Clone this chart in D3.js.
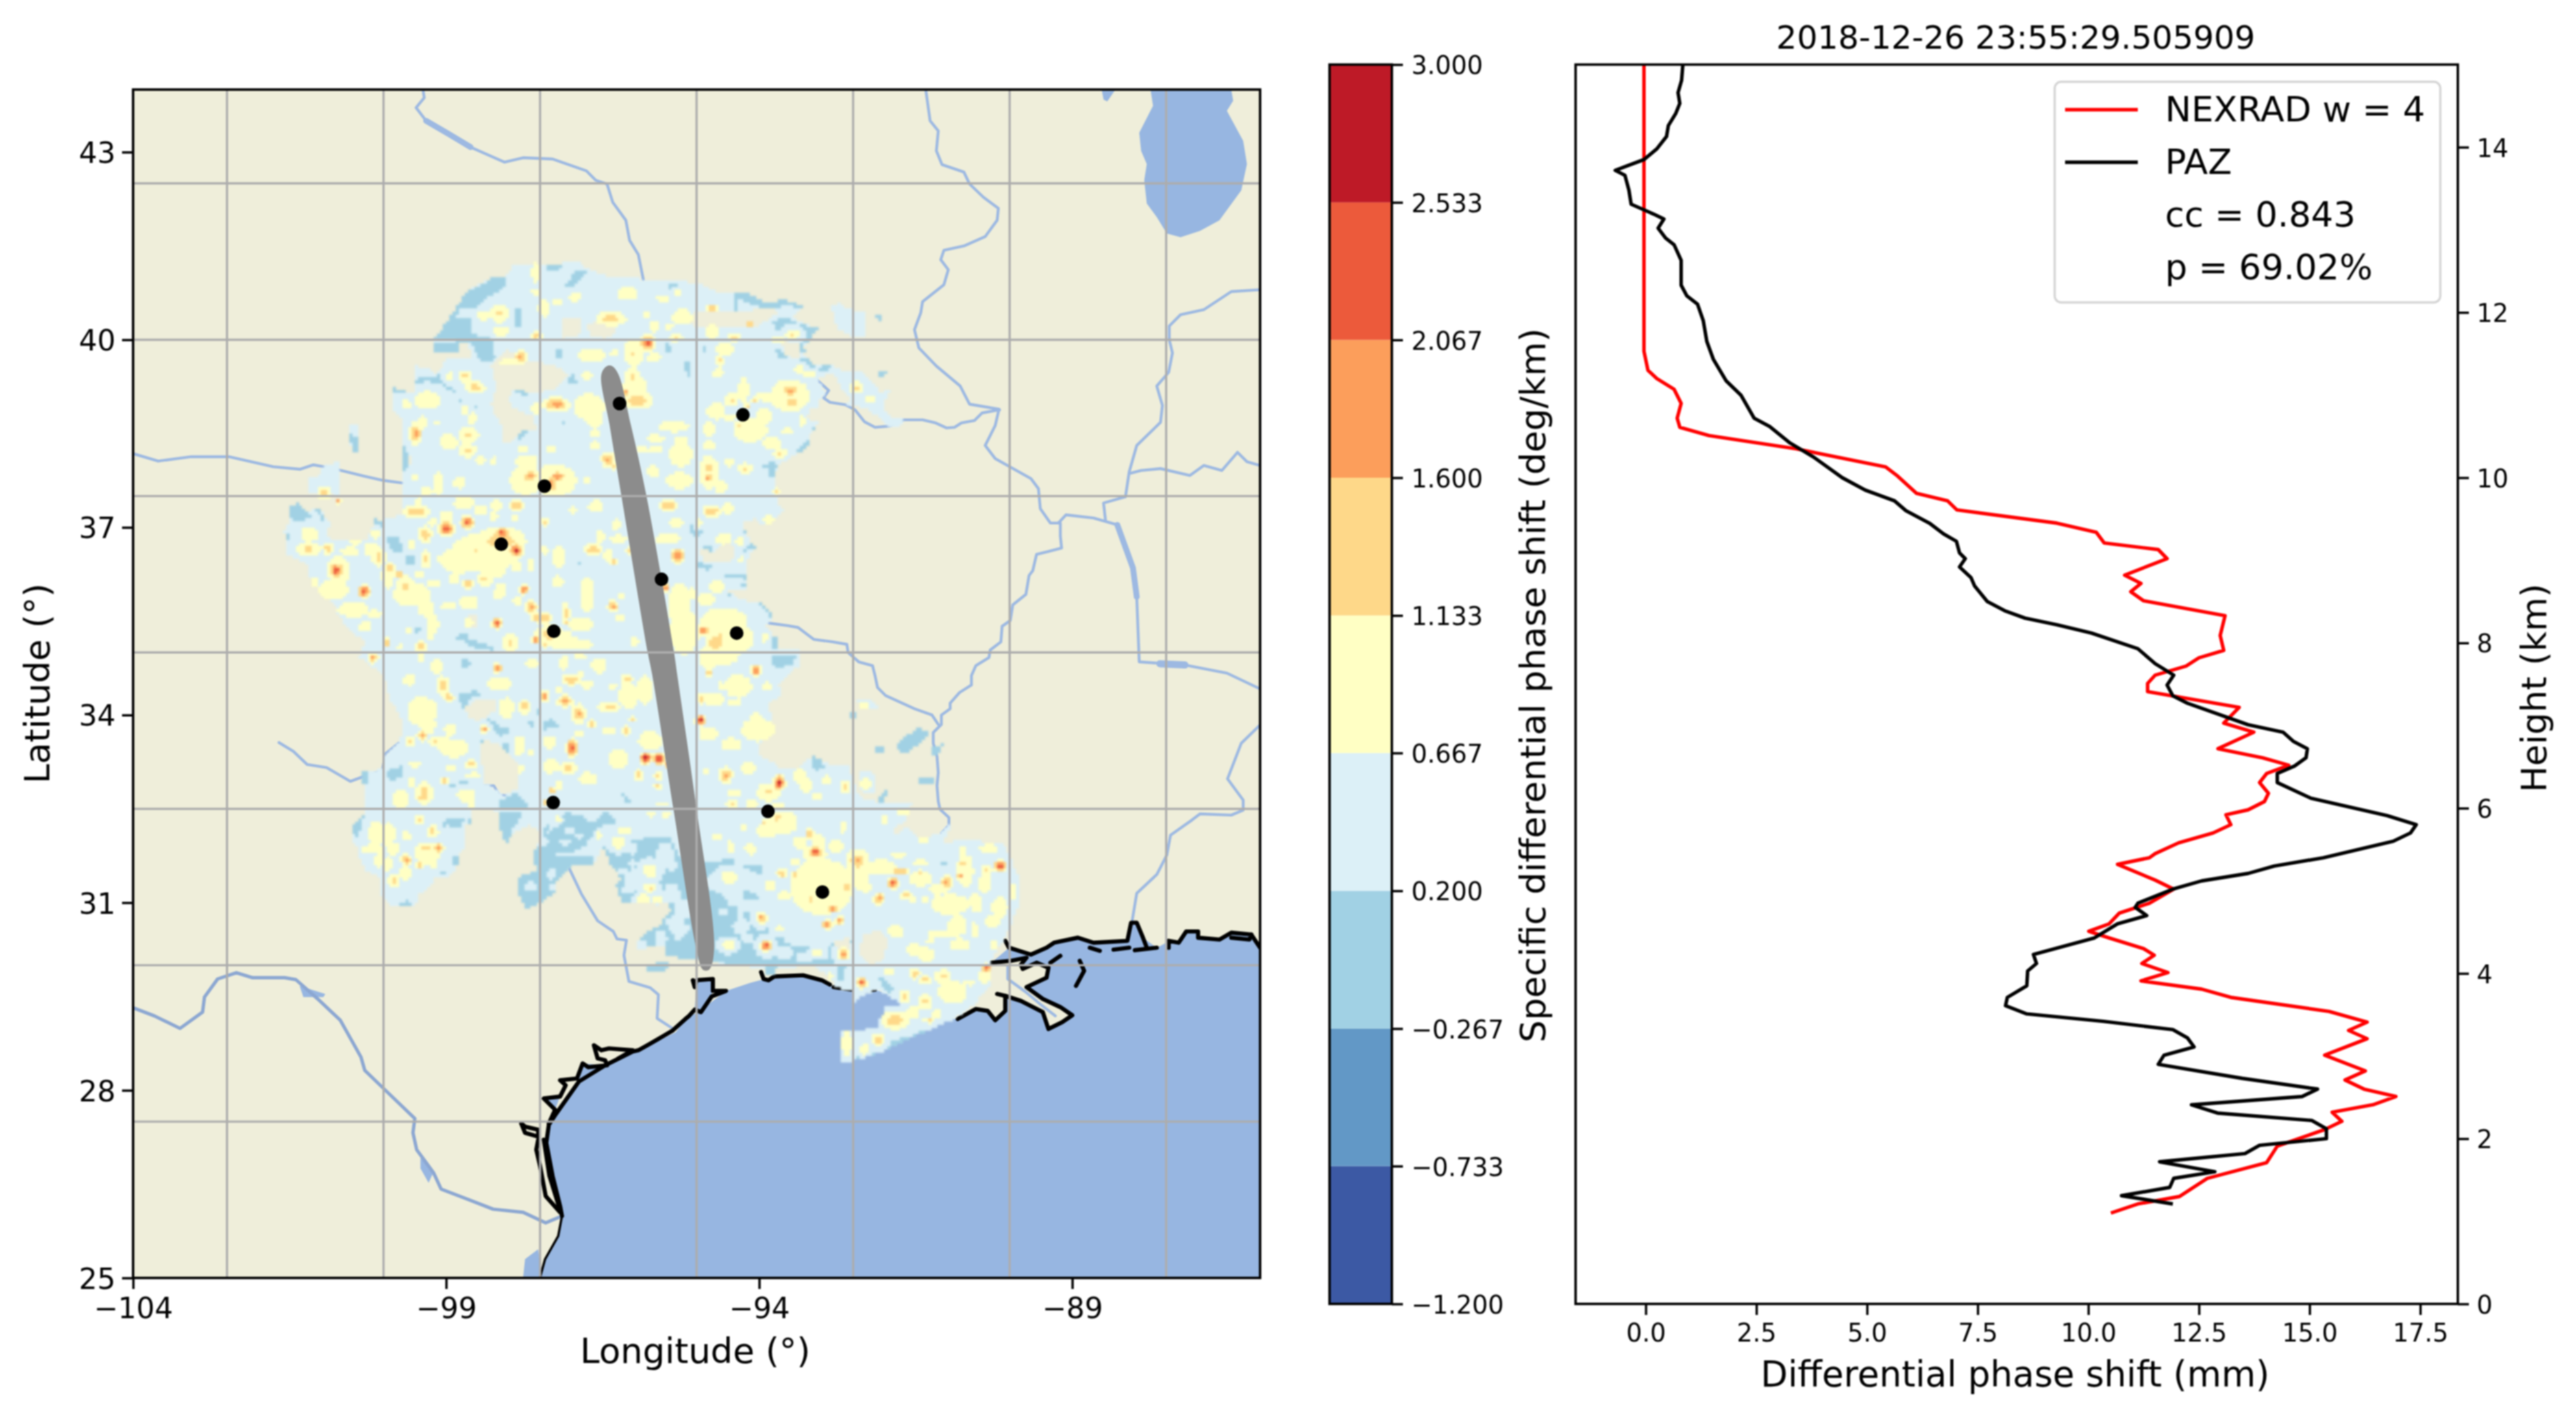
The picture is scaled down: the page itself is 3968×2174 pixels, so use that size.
<!DOCTYPE html>
<html>
<head>
<meta charset="utf-8">
<script src="https://d3js.org/d3.v7.min.js"></script>
<style>
html,body{margin:0;padding:0;background:#fff}
#chart{filter:blur(0.9px)}
text{font-family:"DejaVu Sans",sans-serif;fill:#000}
.axis line{stroke:#000;stroke-width:3.6}
.axis path{display:none}
.axis text{transform:translateY(2px)}
</style>
</head>
<body>
<svg id="chart" width="3968" height="2174"></svg>
<script>
// colour levels of the field
var levels = [-1.2,-0.733,-0.267,0.2,0.667,1.133,1.6,2.067,2.533,3.0];
var levelColors = ["#3c59a4","#6298c6","#a1d1e4","#dcf0f7","#ffffc4","#fed889","#fc9e5b","#ec5a3b","#be1a27"];

// right panel profiles (value, height km)
var nexradX = [-.04,-.04,.05,.25,.64,.80,.71,.77,1.43,3.39,5.42,5.69,6.12,6.82,7.03,9.29,10.18,10.36,11.58,11.78,10.82,11.19,10.96,11.25,13.09,12.98,13.06,12.50,12.21,11.51,11.34,11.34,13.41,13.06,13.74,12.93,13.94,14.53,14.03,13.87,14.07,13.98,13.61,13.11,13.22,12.82,12.04,11.51,11.38,10.66,11.51,11.93,11.38,10.70,10.47,10.01,10.47,11.25,11.49,11.21,11.80,11.19,12.56,13.22,15.44,16.30,15.88,16.30,15.34,16.26,15.80,16.23,16.95,16.43,15.51,15.73,15.34,14.27,14.03,12.69,12.06,11.12,10.51];
var nexradH = [15.01,11.53,11.30,11.2,11.07,10.90,10.72,10.61,10.51,10.35,10.13,10.02,9.81,9.72,9.61,9.45,9.34,9.21,9.13,9.02,8.82,8.72,8.62,8.51,8.33,8.09,7.91,7.82,7.72,7.61,7.51,7.41,7.22,7.03,6.92,6.72,6.61,6.52,6.42,6.31,6.18,6.08,5.98,5.92,5.80,5.70,5.58,5.45,5.40,5.32,5.13,5.02,4.85,4.73,4.60,4.51,4.43,4.30,4.22,4.12,4.01,3.91,3.81,3.71,3.54,3.41,3.31,3.21,3.01,2.82,2.71,2.60,2.51,2.41,2.32,2.21,2.11,1.91,1.71,1.52,1.30,1.21,1.10];
var pazX = [.84,.81,.73,.77,.68,.51,.47,.25,-.04,-.69,-.47,-.38,-.33,.18,.41,.28,.45,.64,.80,.80,.93,1.17,1.30,1.38,1.53,1.82,2.15,2.45,2.80,3.26,3.79,4.44,4.96,5.62,5.88,6.41,6.73,7.02,7.09,7.22,7.09,7.35,7.43,7.72,8.11,8.57,9.29,10.07,11.12,11.51,11.93,11.78,11.91,12.24,13.61,14.40,14.63,14.95,14.92,14.66,14.27,14.27,15.03,16.75,17.41,17.28,16.89,15.31,14.2,13.61,12.56,11.91,11.12,11.06,11.32,10.66,10.14,8.76,8.83,8.63,8.61,8.17,8.13,8.61,10.34,11.91,12.24,12.39,11.71,11.58,13.48,15.18,14.83,12.33,12.92,15.05,15.38,15.38,13.87,13.54,11.61,12.86,11.93,11.84,10.75,11.91];
var pazH = [15.01,14.81,14.66,14.53,14.41,14.26,14.13,13.98,13.85,13.72,13.66,13.48,13.31,13.19,13.13,13.02,12.9,12.82,12.63,12.33,12.2,12.1,11.9,11.65,11.43,11.17,11.0,10.72,10.62,10.42,10.25,10.0,9.85,9.72,9.6,9.45,9.32,9.23,9.09,9.02,8.92,8.79,8.69,8.5,8.39,8.3,8.22,8.12,7.93,7.75,7.61,7.49,7.36,7.27,7.01,6.92,6.81,6.72,6.61,6.51,6.42,6.31,6.12,5.91,5.80,5.70,5.60,5.40,5.30,5.21,5.12,5.02,4.85,4.80,4.70,4.60,4.43,4.23,4.12,4.03,3.85,3.71,3.61,3.51,3.42,3.32,3.22,3.11,3.01,2.90,2.73,2.60,2.51,2.41,2.31,2.22,2.12,2.0,1.92,1.82,1.72,1.60,1.52,1.41,1.31,1.21];
var legendRows = ["NEXRAD w = 4","PAZ","cc = 0.843","p = 69.02%"];

// map ticks
var lonTicks = [-104,-99,-94,-89], latTicks = [25,28,31,34,37,40,43];
var lonGrid = [-102.5,-100,-97.5,-95,-92.5,-90,-87.5], latGrid = [27.5,30,32.5,35,37.5,40,42.5];
var barX = [0,2.5,5,7.5,10,12.5,15,17.5], barH = [0,2,4,6,8,10,12,14];

// satellite track edges and stations
var trackLat = [39.58,39.45,38.64,37.5,35,34.65,32.5,30.25,29.93];
var trackWest = [-96.43,-96.52,-96.39,-96.2,-95.78,-95.71,-95.37,-95,-94.9];
var trackEast = [-96.35,-96.25,-96.05,-95.8,-95.36,-95.31,-95,-94.72,-94.8];
var stationLon = [-96.23,-97.43,-98.12,-95.56,-97.28,-94.26,-94.36,-97.29,-93.86,-92.99];
var stationLat = [38.98,37.66,36.73,36.17,35.34,38.8,35.31,32.6,32.46,31.17];

// gulf and lakes, lon lat
var gulf = [[-97.5,25],[-97.42,25.3],[-97.21,25.67],[-97.15,25.99],[-97.18,26.15],[-97.3,26.63],[-97.4,27.16],[-97.36,27.45],[-97.24,27.63],[-96.88,28.14],[-96.46,28.37],[-95.93,28.64],[-95.33,28.93],[-95.18,29.14],[-94.95,29.27],[-94.53,29.59],[-94.14,29.72],[-93.76,29.82],[-93.3,29.84],[-93,29.76],[-92.79,29.65],[-92.53,29.61],[-92.15,29.61],[-91.77,29.48],[-91.52,29.19],[-90.84,29.14],[-90.54,29.3],[-90.35,29.27],[-90.23,29.12],[-90.07,29.27],[-90.07,29.51],[-89.82,29.43],[-89.47,29.25],[-89.38,28.98],[-89.16,29.09],[-89,29.2],[-89.19,29.33],[-89.47,29.46],[-89.73,29.65],[-89.41,29.8],[-89.38,29.96],[-89.57,30.04],[-89.79,29.94],[-89.82,30.01],[-89.73,30.12],[-89.98,30.07],[-90.29,30.04],[-90.01,30.28],[-89.66,30.17],[-89.41,30.28],[-89.29,30.36],[-88.91,30.44],[-88.66,30.36],[-88.12,30.39],[-88.06,30.68],[-87.97,30.68],[-87.87,30.44],[-87.65,30.28],[-87.46,30.38],[-87.3,30.36],[-87.18,30.54],[-86.99,30.54],[-86.99,30.44],[-86.65,30.41],[-86.46,30.52],[-86.14,30.49],[-86,30.28],[-86,25]];
var gulfBays = [
 [[-97.44,27.87],[-97.26,27.69],[-97.18,27.9]],
 [[-96.91,28.19],[-96.82,28.43],[-96.46,28.4],[-96.88,28.14]],
 [[-95,29.76],[-94.74,29.76],[-94.74,29.57],[-94.95,29.25],[-95.03,29.29]],
 [[-101.34,29.67],[-100.93,29.54],[-100.96,29.49],[-101.28,29.49]],
 [[-99.41,26.92],[-99.2,26.7],[-99.28,26.52],[-99.41,26.75]],
 [[-97.77,25.01],[-97.74,25.3],[-97.53,25.46],[-97.47,25.01]]
];
var lakeMichigan = [[-87.75,44],[-86.46,44],[-86.43,43.82],[-86.53,43.66],[-86.27,43.18],[-86.21,42.81],[-86.3,42.39],[-86.65,41.91],[-86.96,41.74],[-87.27,41.64],[-87.49,41.7],[-87.65,41.96],[-87.81,42.18],[-87.85,42.55],[-87.81,42.81],[-87.9,43.02],[-87.93,43.31],[-87.71,43.74]];
var greenBay = [[-88.53,44],[-88.31,44],[-88.44,43.81],[-88.5,43.84]];

// rivers
var riverMissouri = [[-99.37,44],[-99.35,43.87],[-99.48,43.71],[-99.32,43.5],[-98.96,43.29],[-98.61,43.08],[-98.07,42.84],[-97.77,42.91],[-97.3,42.89],[-96.76,42.7],[-96.61,42.55],[-96.43,42.49],[-96.34,42.2],[-96.13,41.91],[-96.07,41.59],[-95.93,41.36],[-95.85,40.96]];
var riverMissouriWide = [[-99.32,43.5],[-98.96,43.29],[-98.61,43.08]];
var riverMissouriLow = [[-93.08,39.36],[-92.89,39.19],[-92.97,39.07],[-92.87,39],[-92.62,38.96],[-92.47,38.88],[-92.32,38.69],[-92.15,38.6],[-91.92,38.62],[-91.69,38.72],[-91.39,38.72],[-91.18,38.67],[-91.01,38.59],[-90.88,38.6],[-90.77,38.67],[-90.56,38.71],[-90.44,38.83],[-90.16,38.88]];
var riverMississippi = [[-91.34,44],[-91.27,43.5],[-91.14,43.34],[-91.17,43.02],[-91.08,42.8],[-90.73,42.68],[-90.64,42.49],[-90.42,42.28],[-90.18,42.1],[-90.2,41.91],[-90.39,41.65],[-90.73,41.5],[-91.05,41.43],[-91.1,41.28],[-90.98,41.12],[-91.05,40.88],[-91.39,40.61],[-91.42,40.43],[-91.52,40.16],[-91.45,39.87],[-91.17,39.58],[-90.79,39.26],[-90.64,38.97],[-90.17,38.89],[-90.23,38.63],[-90.39,38.31],[-90.23,38.1],[-89.66,37.78],[-89.54,37.62],[-89.51,37.3],[-89.35,37.07],[-89.19,37.07],[-89.19,36.86],[-89.17,36.67],[-89.4,36.61],[-89.57,36.57],[-89.63,36.31],[-89.69,36.23],[-89.74,35.93],[-89.95,35.76],[-89.99,35.51],[-90.12,35.42],[-90.14,35.17],[-90.31,35.04],[-90.33,34.92],[-90.54,34.79],[-90.61,34.63],[-90.61,34.48],[-90.8,34.36],[-90.95,34.19],[-90.95,34.1],[-91.09,34],[-91.09,33.85],[-91.22,33.72],[-91.22,33.55],[-91.16,33.34],[-91.14,33.08],[-91.16,32.87],[-91.14,32.62],[-91.11,32.49],[-90.97,32.36],[-90.97,32.24],[-91.09,32.11]];
var riverDelta = [[-90.03,29.99],[-90.03,29.78],[-89.74,29.57],[-89.49,29.36],[-89.27,29.19]];
var riverWabash = [[-86,40.8],[-86.46,40.77],[-86.9,40.48],[-87.27,40.4],[-87.45,40.22],[-87.45,40],[-87.4,39.79],[-87.46,39.48],[-87.65,39.26],[-87.56,38.95],[-87.59,38.68],[-87.97,38.31],[-88.09,37.89],[-88.15,37.49],[-88.5,37.39],[-88.47,37.12]];
var riverGreen = [[-88.09,37.86],[-87.9,37.91],[-87.59,37.94],[-87.12,37.83],[-86.9,37.99],[-86.61,37.91],[-86.36,38.2],[-86.21,38.05],[-86,37.99]];
var riverOhio = [[-89.22,37.07],[-89.1,37.2],[-88.66,37.15],[-88.28,37.04]];
var riverTennesseeWide = [[-88.28,37.04],[-88.03,36.35],[-87.97,35.89]];
var riverTennessee = [[-87.97,35.89],[-87.93,34.85],[-87.2,34.8],[-86.53,34.67],[-85.96,34.4]];
var riverTennesseeLake = [[-87.6,34.82],[-87.2,34.8]];
var riverAlabama = [[-85.96,33.88],[-86.3,33.55],[-86.52,32.98],[-86.27,32.64],[-86.27,32.48],[-86.46,32.4],[-86.96,32.42],[-87.09,32.32],[-87.43,32.08],[-87.49,31.76],[-87.65,31.45],[-87.97,31.15],[-88.04,30.73]];
var riverArkansasLow = [[-93.85,35.47],[-93.55,35.43],[-93.38,35.4],[-93.13,35.21],[-92.83,35.17],[-92.6,35.13],[-92.58,35],[-92.41,34.85],[-92.19,34.79],[-92.15,34.63],[-92.11,34.44],[-91.98,34.31],[-91.52,34.1],[-91.24,34],[-91.14,33.85]];
var riverArkansasHigh = [[-104,38.18],[-103.6,38.06],[-103.07,38.13],[-102.47,38.13],[-101.76,37.97],[-101.33,37.93],[-101.12,38],[-100.95,37.97],[-100.72,37.92],[-100.31,37.82],[-100,37.75],[-99.7,37.71]];
var riverRedHigh = [[-101.67,33.56],[-101.44,33.42],[-101.22,33.21],[-100.91,33.16],[-100.53,32.94],[-100.31,33.02],[-100.02,33.11],[-99.97,33.38],[-99.76,33.55]];
var riverBrazosTop = [[-98.41,32.87],[-98.24,32.87],[-98.15,32.72],[-98.03,32.71]];
var riverTrinity = [[-97.03,31.54],[-96.84,31.14],[-96.58,30.71],[-96.33,30.54],[-96.27,30.42],[-96.12,30.4],[-96.16,30.16],[-96.08,29.74],[-95.74,29.64],[-95.61,29.53],[-95.63,29.15],[-95.4,29]];
var riverGrande = [[-104,29.32],[-103.66,29.19],[-103.25,28.99],[-102.89,29.25],[-102.86,29.49],[-102.65,29.78],[-102.35,29.88],[-102.09,29.8],[-101.58,29.8],[-101.4,29.77],[-101.05,29.46],[-100.69,29.12],[-100.36,28.53],[-100.3,28.32],[-100,28.03],[-99.5,27.55],[-99.53,27.32],[-99.47,27.05],[-99.2,26.68],[-99.08,26.42],[-98.66,26.26],[-98.25,26.1],[-97.77,26.05],[-97.41,25.88],[-97.15,25.99]];

// coast line pieces
var coastPieces = [
 [[-95.06,29.76],[-95.03,29.65],[-95,29.76],[-94.74,29.78],[-94.74,29.59],[-94.53,29.59],[-94.76,29.5],[-94.93,29.25],[-95.03,29.29],[-95.12,29.19],[-95.18,29.14],[-95.39,28.95],[-95.75,28.74],[-95.93,28.64],[-96.02,28.62],[-96.46,28.4],[-96.88,28.14],[-97.24,27.63],[-97.36,27.45],[-97.4,27.16],[-97.3,26.63],[-97.18,26.15],[-97.15,25.99]],
 [[-93.97,29.89],[-93.93,29.78],[-93.85,29.76],[-93.76,29.82],[-93.3,29.84],[-93,29.76],[-92.87,29.69]],
 [[-92.81,29.65],[-92.53,29.61]],
 [[-92.34,29.59],[-92.15,29.61]],
 [[-91.98,29.65],[-91.92,29.59]],
 [[-90.83,29.14],[-90.54,29.3],[-90.35,29.27],[-90.23,29.12],[-90.07,29.27],[-90.07,29.51],[-90.2,29.54]],
 [[-90.07,29.51],[-89.82,29.43],[-89.47,29.25],[-89.38,28.98],[-89.16,29.09],[-89,29.2],[-89.19,29.33],[-89.47,29.46],[-89.73,29.65],[-89.41,29.8],[-89.38,29.96],[-89.57,30.04],[-89.79,29.94],[-89.82,30.01],[-89.73,30.12],[-89.98,30.07],[-90.29,30.04]],
 [[-90.07,30.39],[-90.01,30.28],[-89.66,30.17],[-89.41,30.28],[-89.29,30.36],[-88.91,30.44],[-88.66,30.36],[-88.12,30.39],[-88.06,30.68],[-87.97,30.68],[-87.87,30.44],[-87.81,30.28]],
 [[-87.46,30.28],[-87.46,30.39],[-87.3,30.36],[-87.18,30.54],[-86.99,30.54],[-86.99,30.44],[-86.65,30.41],[-86.46,30.52],[-86.14,30.49],[-86.17,30.41],[-86.46,30.44]],
 [[-86.14,30.49],[-86,30.28]],
 [[-88.72,30.28],[-88.56,30.23]],[[-88.34,30.25],[-88.09,30.28]],[[-88,30.24],[-87.65,30.28]],
 [[-88.88,30.07],[-88.81,29.91],[-88.94,29.67]],[[-89.35,30.04],[-89.19,30.15]],
 [[-97.8,27.47],[-97.74,27.32],[-97.53,27.26],[-97.53,27.37],[-97.74,27.42],[-97.8,27.47]],
 [[-97.53,27.21],[-97.56,27.05],[-97.5,26.79],[-97.41,26.31],[-97.18,26.05]],
 [[-97.44,27.21],[-97.35,26.63],[-97.2,26.15]],
 [[-97.36,27.47],[-97.26,27.69],[-97.44,27.87],[-97.18,27.9],[-97.09,28.08],[-97.18,28.16],[-96.91,28.19],[-96.82,28.43],[-96.73,28.37],[-96.43,28.4],[-96.46,28.48],[-96.58,28.51],[-96.64,28.72],[-96.52,28.64],[-96.4,28.67],[-96.02,28.64],[-96.25,28.51]]
];
var coastThin = [[-97.15,25.99],[-97.21,25.67],[-97.42,25.3],[-97.5,25.01]];

// coverage of the field, lon lat
var coverage = [
 [[-97.92,41.21],[-96.88,41.23],[-96.67,41.1],[-96.37,41],[-96.03,41.02],[-95.81,40.93],[-95.2,40.93],[-94.91,40.89],[-94.65,40.76],[-94.19,40.7],[-93.89,40.59],[-93.59,40.64],[-93.28,40.52],[-93.47,40.36],[-93.06,40.17],[-93.21,40],[-93.3,39.83],[-93.21,39.6],[-92.87,39.6],[-92.64,39.49],[-92.41,39.51],[-92.22,39.36],[-92.07,39.15],[-91.88,39.24],[-92.03,38.96],[-91.92,38.77],[-91.69,38.73],[-91.69,38.64],[-91.92,38.58],[-92.11,38.77],[-92.28,38.9],[-92.49,38.94],[-92.92,39.09],[-93.04,39.07],[-93.04,38.88],[-93.21,38.88],[-93.25,38.73],[-93.04,38.69],[-93.17,38.52],[-93.21,38.31],[-93.42,38.16],[-93.68,38.01],[-93.78,37.75],[-93.68,37.54],[-93.68,37.37],[-93.59,37.29],[-93.72,37.14],[-93.93,37.03],[-94.06,37.14],[-94.27,37.06],[-94.14,36.78],[-94.06,36.67],[-94.19,36.48],[-94.19,36.02],[-94.53,36],[-94.23,35.81],[-93.78,35.59],[-93.89,35.42],[-93.76,35.25],[-93.68,35.04],[-93.36,35.04],[-93.34,34.79],[-93.55,34.63],[-93.72,34.48],[-93.61,34.35],[-93.85,34.19],[-93.81,33.93],[-93.81,33.81],[-93.97,33.59],[-94.02,33.38],[-93.64,33.15],[-93.38,33.17],[-93.13,33.34],[-92.87,33.21],[-92.58,33.21],[-92.5,32.95],[-92.41,32.7],[-92.03,32.58],[-91.56,32.58],[-91.69,32.24],[-91.43,32.03],[-91.14,32.11],[-90.95,32.28],[-90.99,32.11],[-91.09,31.94],[-90.88,31.98],[-90.54,31.98],[-90.12,31.96],[-90.01,31.77],[-89.84,31.35],[-89.86,30.92],[-89.99,30.63],[-90.12,30.37],[-90.29,30.08],[-90.29,29.7],[-90.58,29.36],[-90.88,29.14],[-91.31,28.95],[-91.69,28.81],[-92.03,28.64],[-92.5,28.47],[-92.72,28.47],[-92.72,28.93],[-92.5,28.93],[-92.11,29.02],[-92.07,29.19],[-91.73,29.36],[-92.03,29.57],[-92.15,29.61],[-92.5,29.4],[-92.5,29.57],[-92.79,29.65],[-92.83,29.78],[-93.13,29.99],[-93.89,29.95],[-94.69,30.03],[-95.44,30.16],[-95.53,30.33],[-95.91,30.25],[-95.97,30.37],[-95.82,30.52],[-95.57,30.63],[-95.44,30.97],[-96.18,30.99],[-96.29,31.28],[-96.2,31.39],[-96.37,31.6],[-96.5,31.9],[-96.65,31.6],[-97.01,31.58],[-97.26,31.31],[-97.26,31.14],[-97.5,31.01],[-97.73,30.88],[-97.86,31.18],[-97.86,31.39],[-97.56,31.52],[-97.62,31.81],[-97.52,31.94],[-97.52,32.15],[-97.69,32.24],[-97.94,32.11],[-98.03,31.96],[-98.15,32.24],[-98.17,32.47],[-98.58,32.49],[-98.58,32.32],[-98.7,32.24],[-98.68,31.9],[-98.79,31.77],[-98.79,31.62],[-98.96,31.41],[-99.17,31.39],[-99.21,31.3],[-99.42,31.14],[-99.51,30.94],[-99.85,30.94],[-100.04,31.14],[-100.04,31.39],[-100.27,31.5],[-100.38,31.69],[-100.38,31.81],[-100.48,31.98],[-100.5,32.24],[-100.31,32.39],[-100.31,32.96],[-100.29,33.11],[-100.02,33.13],[-99.97,33.38],[-99.76,33.57],[-99.7,33.68],[-99.7,33.93],[-99.89,34.23],[-100,34.65],[-100.38,34.92],[-100.31,35.17],[-100.4,35.25],[-100.61,35.42],[-100.76,35.76],[-100.95,35.89],[-101.2,36.23],[-101.2,36.4],[-101.54,36.57],[-101.58,36.95],[-101.5,37.08],[-101.5,37.33],[-101.37,37.4],[-101.2,37.2],[-101.12,37.31],[-101.01,37.27],[-100.86,37.08],[-100.91,36.87],[-100.78,36.78],[-100.27,36.82],[-100.14,37.08],[-100.02,37.12],[-99.72,37.2],[-99.7,37.88],[-99.57,38.01],[-99.53,38.31],[-99.72,38.47],[-99.72,38.73],[-99.85,38.86],[-99.85,39.15],[-99.51,39.15],[-99.51,39.58],[-99.3,39.56],[-99.17,39.43],[-99,39.68],[-98.81,39.7],[-98.6,39.68],[-98.64,39.96],[-98.79,39.96],[-98.81,39.82],[-99.19,39.82],[-99.19,40],[-98.96,40.32],[-98.83,40.51],[-98.7,40.76],[-98.24,41],[-98.03,41.02]],
 [[-100.53,38.67],[-100.39,38.67],[-100.39,38.16],[-100.53,38.31]],
 [[-101.18,37.8],[-101.01,37.84],[-100.95,38.01],[-100.72,38.03],[-100.69,37.63],[-100.72,37.52],[-101.03,37.54],[-101.18,37.54]],
 [[-92.85,40.53],[-92.7,40.59],[-92.6,40.5],[-92.28,40.42],[-92.28,40.08],[-92.49,40.04],[-92.75,40.17],[-92.8,40.34]],
 [[-92.45,34.25],[-92.24,34.27],[-92.09,34.1],[-92.36,34.1]]
];
var noData = [
 [[-98.28,39.58],[-98.03,39.83],[-97.69,39.66],[-97.26,39.6],[-97.05,39.45],[-97.26,39.2],[-97.6,39.15],[-97.94,39.2],[-98,39.03],[-97.94,38.9],[-97.6,38.77],[-97.56,38.56],[-97.73,38.56],[-97.9,38.43],[-98,38.31],[-98.11,38.39],[-98.13,38.73],[-98.24,38.81],[-98.28,38.98],[-98.2,39.24]],
 [[-97.16,40.34],[-96.84,40.36],[-96.88,40.04],[-97.16,40.02]],
 [[-96.75,40.25],[-96.5,40.3],[-96.26,40.15],[-96.45,40.02],[-96.7,40.06]],
 [[-95.33,40.32],[-95.03,40.44],[-94.44,40.44],[-93.76,40.51],[-93.72,40.42],[-94.02,40.21],[-94.53,40.21],[-95.2,40.23]],
 [[-93.64,39.98],[-93.32,39.96],[-93.38,39.7],[-93.59,39.75]],
 [[-93.08,39.41],[-92.79,39.45],[-92.71,39.24],[-92.49,38.98],[-92.92,39.06],[-92.97,39.19]],
 [[-94.95,36.65],[-94.69,36.61],[-94.53,36.78],[-94.4,36.69],[-94.4,36.48],[-94.65,36.44],[-94.9,36.44]],
 [[-98.72,34.1],[-98.48,34.27],[-98.19,34.23],[-98.19,34.09],[-98.48,33.89],[-98.64,33.98]],
 [[-98.45,33.51],[-98.36,33.59],[-98.11,33.51],[-97.86,33.25],[-97.86,32.83],[-98.07,32.72],[-98.24,32.83],[-98.41,32.92],[-98.41,33.13],[-98.45,33.38]],
 [[-95.58,31.81],[-95.52,31.9],[-95.42,31.77],[-95.5,31.64]],
 [[-95.75,30.92],[-95.5,31.01],[-95.39,30.88],[-95.58,30.67],[-95.75,30.58]],
 [[-92.36,30.46],[-92.11,30.58],[-91.92,30.42],[-92.03,30.08],[-92.24,30],[-92.41,30.16]],
 [[-92.79,30.37],[-92.53,30.48],[-92.53,30.25],[-92.75,30.25]],
 [[-91.88,32.15],[-91.62,32.34],[-91.58,32.28],[-91.77,32.09]],
 [[-98.66,35.6],[-98.52,35.6],[-98.52,35.42],[-98.66,35.42]]
];
var lowPatches = [
 [[-100.53,38.5],[-100.39,38.43],[-100.39,38.16],[-100.48,38.2],[-100.53,38.35]],
 [[-92.14,40.4],[-92.03,40.4],[-92.03,40.3],[-92.11,40.32]],
 [[-92.11,39.51],[-91.96,39.49],[-91.98,39.41],[-92.09,39.42]],
 [[-91.83,33.51],[-91.47,33.81],[-91.26,33.69],[-91.35,33.6],[-91.69,33.38],[-91.77,33.42]],
 [[-92.15,33.49],[-92,33.49],[-92,33.4],[-92.15,33.4]],
 [[-91.26,33.51],[-91.07,33.53],[-91.09,33.38],[-91.26,33.36]],
 [[-91.43,33],[-91.18,33],[-91.18,32.89],[-91.43,32.89]],
 [[-92.58,34.02],[-92.43,34.06],[-92.43,33.93],[-92.53,33.93]],
 [[-92.43,33.06],[-92.24,33.13],[-92.13,32.96],[-92.13,32.75],[-92.36,32.75]],
 [[-92.11,32.66],[-91.98,32.83],[-91.96,32.75],[-92.03,32.58]],
 [[-95.78,29.99],[-95.48,30.08],[-95.44,29.95],[-95.61,29.88],[-95.78,29.88]],
 [[-93.89,30],[-93.72,30],[-93.75,29.84],[-93.89,29.84]],
 [[-92.75,30],[-92.62,30],[-92.66,29.74],[-92.75,29.78]],
 [[-98.96,40.32],[-98.83,40.53],[-98.7,40.74],[-98.24,41],[-98.03,41.02],[-98.03,40.89],[-98.24,40.72],[-98.41,40.64],[-98.47,40.51],[-98.7,40.51],[-98.81,40.49],[-98.83,40.34],[-98.62,40.34],[-98.62,40.13],[-98.41,40.04],[-98.24,40.04],[-98.22,39.66],[-98.45,39.66],[-98.62,39.96],[-99.21,40]],
 [[-99.19,39.96],[-98.81,39.96],[-98.81,39.82],[-99.19,39.82]],
 [[-98,40.47],[-97.83,40.51],[-97.77,40.25],[-97.94,40.15],[-98,40.25]],
 [[-97.75,41.21],[-97.07,41.22],[-97.3,41.06],[-97.52,41.21]],
 [[-97.09,40.87],[-96.92,41.12],[-96.69,41.12],[-96.88,40.97],[-96.97,40.87]],
 [[-97.26,39.83],[-97.16,39.85],[-97.14,39.7],[-97.26,39.72]],
 [[-99.51,39.36],[-99.12,39.43],[-99.04,39.28],[-98.7,39.24],[-98.66,39.13],[-98.96,39.19],[-99.21,39.19],[-99.44,39.19]],
 [[-98,39.19],[-97.62,39.24],[-97.73,39.07],[-97.9,39.19]],
 [[-97.2,38.73],[-97.05,38.81],[-96.99,38.73],[-97.09,38.64]],
 [[-97.09,39.36],[-96.97,39.45],[-96.9,39.3],[-97.05,39.3]],
 [[-98.83,39.05],[-98.49,38.94],[-98.49,38.81],[-98.75,38.98]],
 [[-97.83,38.47],[-97.69,38.62],[-97.52,38.52],[-97.69,38.56],[-97.83,38.39]],
 [[-99.72,38.47],[-99.55,38.35],[-99.59,38.01],[-99.7,37.88],[-99.68,38.31]],
 [[-101.52,37.33],[-101.37,37.39],[-101.16,37.16],[-101.39,37.08],[-101.48,37.16]],
 [[-101.14,37.31],[-101.01,37.29],[-100.93,37.08],[-101.05,37.2]],
 [[-101.56,36.95],[-101.44,36.78],[-101.44,36.65],[-101.56,36.57]],
 [[-100.23,36.87],[-100.12,37.14],[-100.02,37.1],[-100.02,37.01],[-100.12,36.99],[-100.21,36.87]],
 [[-99.98,36.82],[-99.76,36.86],[-99.68,36.63],[-99.89,36.55],[-99.98,36.59]],
 [[-99.61,36.61],[-99.49,36.61],[-99.51,36.4],[-99.72,36.31],[-99.66,36.44]],
 [[-100.53,36.4],[-100.42,36.31],[-100.44,36.25],[-100.53,36.31]],
 [[-100.84,36.55],[-100.76,36.59],[-100.76,36.46],[-100.84,36.46]],
 [[-98.53,35.89],[-98.34,35.91],[-98.41,35.74],[-98.47,35.78]],
 [[-99.51,35.42],[-99.4,35.42],[-99.38,35.21],[-99.51,35.25]],
 [[-98.87,35.21],[-98.68,35.36],[-98.62,35.21],[-98.28,35.11],[-98.24,35.02],[-98.49,35.04],[-98.7,35.17]],
 [[-98.75,34.94],[-98.58,34.83],[-98.72,34.7]],
 [[-96.92,36.46],[-96.8,36.4],[-96.8,36.36],[-96.88,36.38]],
 [[-98.19,35.64],[-97.98,35.59],[-98.03,35.51],[-98.19,35.57]],
 [[-100.76,35.76],[-100.67,35.76],[-100.72,35.59],[-100.76,35.59]],
 [[-99.85,39.24],[-99.66,39.17],[-99.68,39.13],[-99.83,39.13]],
 [[-95.48,40.91],[-95.27,40.91],[-95.44,40.78]],
 [[-94.42,40.74],[-94.2,40.74],[-93.89,40.59],[-93.59,40.64],[-93.28,40.52],[-93.64,40.53],[-93.89,40.49],[-94.14,40.58],[-94.33,40.66],[-94.33,40.47],[-94.4,40.47]],
 [[-93.81,40.28],[-93.55,40.38],[-93.38,40.25],[-93.06,40.19],[-93.17,40],[-93.3,39.92],[-93.23,39.79],[-93.34,39.79],[-93.34,40],[-93.38,40.08],[-93.59,40.23],[-93.68,40.08]],
 [[-95.58,39.94],[-95.42,39.94],[-95.42,39.81],[-95.58,39.83]],
 [[-95.22,39.64],[-95.08,39.64],[-95.08,39.41],[-95.14,39.41]],
 [[-94.89,39.92],[-94.83,39.92],[-94.83,39.81],[-94.89,39.81]],
 [[-93.76,39.83],[-93.68,39.87],[-93.57,39.72],[-93.68,39.72]],
 [[-93.64,39.41],[-93.53,39.6],[-93.43,39.58],[-93.44,39.47],[-93.57,39.39]],
 [[-93.38,39.7],[-93.25,39.7],[-93.04,39.55],[-92.96,39.6],[-92.83,39.6],[-92.96,39.43],[-93.08,39.49],[-93.3,39.6]],
 [[-93.28,39.36],[-93.11,39.36],[-93.17,39.26],[-93.17,39.11],[-93.28,39.09]],
 [[-93.17,39.09],[-93.04,39.09],[-93.04,38.88],[-93.21,38.88]],
 [[-93.66,38.9],[-93.47,38.92],[-93.32,38.77],[-93.42,38.73],[-93.51,38.83],[-93.62,38.73],[-93.68,38.73]],
 [[-93.44,38.18],[-93.21,38.43],[-93.04,38.71],[-93.17,38.52],[-93.21,38.31],[-93.38,38.18]],
 [[-93.99,37.99],[-93.85,38.01],[-93.83,38.14],[-93.66,38.01],[-93.76,37.92],[-93.78,37.78],[-93.85,37.78],[-93.87,37.94]],
 [[-95.14,37.01],[-95.01,37.06],[-94.89,36.91],[-95.03,36.84]],
 [[-94.25,37.03],[-94.14,36.78],[-94.06,36.67],[-94.17,36.65],[-94.25,36.86]],
 [[-94.42,36.69],[-94.19,36.72],[-94.21,36.61],[-94.36,36.65]],
 [[-94.95,36.72],[-94.74,36.69],[-94.76,36.61],[-94.86,36.65]],
 [[-94.99,36.44],[-94.74,36.4],[-94.8,36.31],[-94.99,36.38]],
 [[-94.53,36.27],[-94.19,36.23],[-94.19,36.17],[-94.53,36.21]],
 [[-94.3,36.12],[-94.19,36.12],[-94.19,36.04],[-94.3,36.08]],
 [[-94.5,36],[-94.36,35.85],[-93.93,35.78],[-93.78,35.61],[-93.93,35.47],[-94.12,35.44],[-94.06,35.57],[-94.06,35.68],[-94.31,35.72],[-94.5,35.83]],
 [[-93.85,35.25],[-93.68,35.25],[-93.68,35.04],[-93.78,35.04]],
 [[-93.83,34.94],[-93.36,34.94],[-93.51,34.79],[-93.76,34.75]],
 [[-98.81,34.36],[-98.53,34.38],[-98.24,34.38],[-98.19,34.23],[-98.41,34.29],[-98.6,34.29],[-98.72,34.1],[-98.81,34.23]],
 [[-98.36,33.95],[-98.15,33.85],[-97.96,33.76],[-98.15,33.64],[-98.28,33.85]],
 [[-98.56,33.51],[-98.41,33.61],[-98.47,33.4],[-98.56,33.4]],
 [[-98.17,33.51],[-97.94,33.57],[-97.9,33.28],[-98.03,33.42]],
 [[-99.97,33.11],[-99.68,33.19],[-99.68,33.04],[-99.76,32.89],[-99.97,33]],
 [[-100.38,33.06],[-100.23,33.11],[-100.23,32.92],[-100.33,32.92]],
 [[-99.3,32.92],[-99.08,32.94],[-99.07,32.58],[-99.13,32.62],[-99.21,32.83]],
 [[-98.98,32.85],[-98.79,32.94],[-98.6,32.92],[-98.79,32.62],[-98.87,32.79]],
 [[-98.17,32.62],[-97.86,32.77],[-97.71,32.56],[-97.73,32.51],[-98.17,32.51]],
 [[-98.17,32.47],[-97.77,32.47],[-97.86,32.28],[-97.96,32.13],[-98,31.96],[-98.07,31.96],[-98.15,32.24]],
 [[-99.13,32.15],[-99,32.34],[-98.72,32.34],[-98.77,32.19],[-99,32.24],[-99.11,32.11]],
 [[-99.17,31.77],[-98.92,31.79],[-98.79,31.73],[-98.81,31.62],[-99,31.6],[-98.98,31.41],[-99.13,31.47]],
 [[-100.5,32.24],[-100.31,32.39],[-100.38,32.15],[-100.46,31.98]],
 [[-100.14,31.47],[-100.02,31.45],[-100.02,31.39]],
 [[-99.74,30.97],[-99.61,31.05],[-99.51,30.94]],
 [[-98.62,32.49],[-98.58,32.49],[-98.58,32.28],[-98.66,32.24]],
 [[-97.47,33.89],[-97.32,33.93],[-97.16,33.81],[-97.47,33.76]],
 [[-97.77,34.02],[-97.64,33.95],[-97.56,33.78],[-97.69,33.85]],
 [[-97.62,34.19],[-97.52,34.1],[-97.52,34.02],[-97.62,34.06]],
 [[-96.2,32.77],[-96.03,32.58],[-96.12,32.6]],
 [[-97.47,32.19],[-97.35,32.28],[-97.39,32.11],[-97.2,32.24],[-97.09,32.45],[-96.84,32.39],[-96.67,32.28],[-96.46,32.47],[-96.31,32.36],[-96.31,32.24],[-96.5,32.24],[-96.67,32.07],[-96.75,31.94],[-96.92,31.83],[-97.26,31.77],[-97.09,31.73],[-96.63,31.77],[-96.63,31.6],[-97.01,31.58],[-97.26,31.31],[-97.26,31.14],[-97.5,31.01],[-97.73,30.88],[-97.86,31.18],[-97.86,31.39],[-97.56,31.52],[-97.62,31.81],[-97.52,31.9],[-97.35,31.94],[-97.47,32.11]],
 [[-96.5,31.9],[-96.25,32.07],[-95.91,32],[-95.74,32.07],[-95.4,32.03],[-95.25,31.69],[-94.78,31.64],[-94.38,31.73],[-94.38,31.6],[-94.72,31.47],[-94.74,31.31],[-94.48,30.97],[-94.36,30.97],[-94.33,30.71],[-94.18,30.88],[-93.97,30.58],[-93.68,30.65],[-93.34,30.67],[-93.21,30.75],[-93.08,30.54],[-92.83,30.48],[-92.58,30.52],[-92.51,30.37],[-92.79,30.29],[-92.53,30],[-93.89,30],[-94.69,30.03],[-95.5,30.16],[-95.53,30.33],[-95.91,30.25],[-95.97,30.37],[-95.82,30.52],[-95.57,30.63],[-95.44,30.97],[-96.18,30.99],[-96.29,31.28],[-96.2,31.39],[-96.37,31.6]],
 [[-94.27,31.58],[-93.76,31.58],[-93.91,31.41]],
 [[-93.28,31.64],[-93.04,31.54],[-93.11,31.47]],
 [[-93.15,33.34],[-93.04,33.3],[-92.96,33.17],[-93.11,33.11],[-93.17,33.23]],
 [[-94.02,33.13],[-93.85,33.02],[-94.02,32.92]],
 [[-94.27,31.22],[-94.06,31.14],[-93.95,31.03],[-94.27,31.03]],
 [[-92.47,28.55],[-92.03,28.72],[-91.56,28.95],[-91.31,28.95],[-91.69,28.78],[-92.03,28.62],[-92.47,28.47]],
 [[-91.99,29.33],[-91.73,29.38],[-91.77,29.25],[-91.98,29.27]],
 [[-92.15,29.82],[-91.98,29.78],[-91.81,29.61],[-91.94,29.57]],
 [[-90,31.58],[-89.84,31.35],[-89.88,31.28]],
 [[-91.14,31.62],[-90.88,31.64],[-90.9,31.5],[-91.01,31.58]]
];

// hot cells: lon, lat, peak, radius lon, radius lat
var hotspots = [
[-97.56,41.08,1.2,.06,.13],[-97.56,40.76,1.2,.06,.05],[-97.43,40.51,.9,.08,.11],[-98.15,40.42,1.3,.11,.12],[-98.41,40.39,.9,.09,.06],[-98.13,40.14,1.2,.11,.06],[-97.56,40.06,1.7,.08,.06],[-97.22,40.59,.9,.06,.05],[-96.94,40.68,.9,.08,.05],[-96.1,40.74,.9,.13,.09],[-96.37,40.34,1.5,.2,.1],[-95.53,40.66,.9,.08,.04],[-95.31,40.74,.9,.05,.05],[-95.23,40.36,.9,.13,.1],[-95.67,40.21,.9,.07,.07],[-95.44,40.21,.9,.06,.05],[-95.8,40.4,.9,.05,.05],[-95.78,39.95,2.7,.11,.11],[-95.33,40.03,1.3,.09,.05],[-96.01,39.79,1.2,.13,.18],[-96.69,39.75,1.1,.19,.09],[-95.69,39.72,.9,.1,.06],[-96.31,39.79,.9,.06,.05],[-97.81,39.72,1.8,.09,.1],[-97.98,39.64,1.1,.12,.05],[-96.75,39.42,.9,.07,.05],[-96.03,39.41,1.4,.1,.12],[-95.99,39.2,1,.17,.2],[-95.95,39.03,1.7,.2,.12],[-96.14,39.16,2.5,.06,.06],[-96.71,38.92,.95,.2,.17],[-96.63,38.73,.9,.1,.1],[-97.24,38.96,2,.2,.1],[-97.56,38.9,1.1,.06,.08],[-98.7,39.42,1.3,.08,.08],[-98.94,39.42,.9,.04,.06],[-98.54,39.24,1.5,.14,.08],[-99.3,39.03,.95,.17,.12],[-99.64,38.96,.9,.06,.06],[-98.7,38.88,1.2,.06,.05],[-98.58,38.73,.9,.05,.08],[-99.15,38.69,.8,.04,.03],[-99.49,38.5,1.9,.09,.15],[-99.38,38.67,.9,.06,.1],[-98.64,38.47,1.4,.14,.1],[-98.96,38.37,.95,.12,.1],[-98.66,38.23,1.3,.12,.09],[-97.77,38.25,1.1,.07,.05],[-97.71,38.05,1.2,.14,.1],[-97.33,38.25,.85,.06,.03],[-95.36,38.61,.9,.2,.07],[-95.67,38.42,.9,.12,.05],[-95.25,38.39,.9,.07,.07],[-96.63,38.52,.9,.07,.05],[-96.63,38.31,.9,.06,.06],[-96.41,38.08,1.9,.1,.11],[-96.31,37.99,1.4,.04,.06],[-95.65,38.24,.9,.1,.05],[-95.86,38.24,.9,.08,.04],[-95.25,38.16,.95,.15,.15],[-95.69,37.89,.95,.08,.08],[-95.27,37.75,.95,.17,.11],[-95.14,37.69,1.2,.05,.04],[-98.45,38.07,.85,.07,.06],[-98.24,38.07,.85,.05,.05],[-99.12,37.79,.9,.07,.07],[-98.79,37.72,.9,.08,.08],[-99.13,37.61,.9,.07,.07],[-99.32,37.58,.85,.08,.06],[-99.49,37.8,.85,.06,.03],[-97.66,37.81,2,.11,.1],[-97.73,37.75,1,.2,.19],[-97.22,37.81,2.3,.11,.08],[-97.33,37.69,2,.1,.12],[-97.26,37.75,1.05,.27,.21],[-96.75,37.75,.85,.03,.08],[-100.95,37.56,1.8,.1,.09],[-100.72,37.42,2.1,.04,.04],[-99.47,37.25,1.7,.2,.08],[-99.44,37.41,.85,.05,.06],[-98.72,37.39,.95,.13,.09],[-98.45,37.27,1.2,.09,.06],[-98.2,37.35,1.2,.08,.08],[-97.88,37.35,1.8,.09,.08],[-99,37.16,.9,.09,.08],[-98.66,37.08,2.5,.1,.09],[-98.99,36.98,2.6,.12,.11],[-99.22,37.08,.9,.06,.05],[-99.34,36.89,1.7,.1,.11],[-98.11,36.91,2.7,.09,.09],[-98.13,36.78,1.6,.33,.18],[-97.88,36.63,2.8,.1,.1],[-98.36,36.61,1,.45,.25],[-98.53,36.63,1.3,.08,.05],[-98.79,36.48,1,.25,.17],[-98.22,36.55,1.2,.05,.05],[-97.9,37.17,1.2,.05,.04],[-98.24,37.18,.9,.06,.06],[-97.43,37.08,1.2,.07,.05],[-96.61,37.33,.9,.1,.08],[-96.97,37.27,.85,.05,.05],[-95.44,37.35,1.9,.13,.08],[-95.33,37.08,.9,.1,.05],[-96.29,37.03,.9,.06,.08],[-96.54,36.86,.9,.06,.08],[-96.25,36.82,.9,.12,.05],[-96.65,36.64,1.7,.12,.08],[-96.42,36.56,1.2,.06,.07],[-97.2,36.53,.9,.09,.15],[-97.43,36.63,.9,.05,.06],[-96.31,36.45,1.6,.07,.05],[-96.08,36.63,1.3,.05,.05],[-95.3,36.54,2.3,.1,.1],[-101.2,36.65,1.4,.16,.1],[-101.18,36.89,.9,.11,.1],[-100.89,36.66,1.6,.07,.08],[-100.44,36.77,1.1,.08,.04],[-100.12,36.89,1.1,.07,.06],[-100.53,36.61,1.1,.12,.06],[-100.19,36.65,.9,.11,.1],[-100.08,36.53,1.4,.09,.13],[-100.76,36.31,2.9,.09,.1],[-100.72,36.31,1.5,.15,.18],[-101.1,36.13,.9,.06,.06],[-100.8,36,.9,.2,.13],[-100.31,35.98,2.7,.09,.09],[-100.48,35.68,.9,.2,.1],[-100.14,35.62,.85,.1,.05],[-100.29,35.42,.9,.08,.07],[-99.55,36.72,.85,.06,.06],[-99.89,36.35,1.9,.07,.08],[-99.76,36.25,1.9,.06,.06],[-99.32,36.49,1.4,.07,.12],[-99.64,36.06,1.4,.12,.14],[-99.55,35.93,.95,.25,.15],[-99.93,36.23,.9,.08,.17],[-99.34,35.72,.9,.1,.12],[-98.96,35.74,.9,.1,.05],[-99.02,36.48,1,.1,.08],[-98.87,36.19,.9,.07,.08],[-99.21,36.1,.85,.08,.04],[-99.44,36.25,.9,.07,.05],[-98.65,36.09,1.8,.07,.07],[-98.39,36.17,1.4,.1,.1],[-98.24,36.4,1,.17,.17],[-97.88,36.38,.9,.07,.06],[-97.65,36.41,.9,.04,.08],[-97.76,36.01,2.4,.07,.07],[-97.21,36.13,.9,.07,.08],[-98.13,35.98,.9,.08,.1],[-98.19,35.91,1.2,.04,.05],[-98.64,35.8,.9,.12,.1],[-97.64,35.72,1.9,.1,.09],[-97.86,35.83,1,.06,.06],[-97.47,35.55,1.9,.15,.07],[-97.56,35.55,2.3,.05,.05],[-97.09,35.62,1.5,.06,.15],[-97.09,35.49,1.8,.04,.04],[-96.84,35.45,.95,.17,.08],[-98.19,35.47,2.6,.08,.08],[-98.64,35.47,1.2,.06,.06],[-97.56,35.2,2.6,.07,.05],[-97.35,35.28,1.5,.2,.13],[-97.43,35.11,2,.04,.04],[-97.09,35.29,1.1,.08,.04],[-97.01,35.13,.9,.3,.08],[-97.98,35.15,1.4,.1,.12],[-99.21,35.45,.95,.07,.15],[-99.61,35.36,1.1,.05,.05],[-99.95,35.17,1.9,.06,.08],[-99.4,35.08,1.5,.08,.1],[-99.25,35.28,.9,.04,.08],[-100.17,34.92,1.7,.08,.08],[-99.4,34.92,1.2,.05,.05],[-99.74,35.08,1,.05,.04],[-98.18,34.75,2.6,.07,.07],[-99.15,34.79,.9,.08,.1],[-96.75,35.93,1.2,.1,.22],[-96.33,35.74,1.9,.08,.08],[-96.22,35.55,1.1,.05,.06],[-96.2,35.91,1.2,.05,.04],[-95.99,35.18,.9,.06,.06],[-96.56,34.79,.9,.1,.1],[-96.86,34.94,1.3,.08,.04],[-97.11,34.83,.9,.06,.09],[-97.62,34.83,.9,.1,.05],[-96.84,34.66,1.2,.05,.05],[-95.5,36.04,2.2,.06,.06],[-95.27,35.76,.95,.15,.27],[-95.23,35.34,.95,.13,.21],
[-94.74,40.5,1.7,.08,.05],[-94.14,40.25,2.6,.05,.04],[-94.4,40.03,1.7,.07,.07],[-94.74,40.12,.9,.08,.09],[-94.54,39.85,1.3,.12,.08],[-94.64,39.66,1.4,.06,.07],[-93.47,40.08,1.3,.09,.07],[-93.7,40,.95,.07,.05],[-94.66,39.47,.9,.08,.05],[-93.36,39.53,.9,.06,.05],[-93.21,39.45,.9,.1,.04],[-93.51,39.19,1.9,.15,.1],[-93.49,39,1.9,.1,.06],[-93.51,39.11,1,.25,.21],[-93.89,39.09,.9,.13,.06],[-94.44,39.03,1.3,.09,.08],[-94.31,39.11,1.3,.06,.04],[-94.08,39.03,1.2,.06,.04],[-94.25,39.2,1,.08,.15],[-94.69,38.86,.9,.12,.11],[-94.46,38.76,1.3,.08,.04],[-94.19,38.94,2.1,.04,.04],[-94.31,38.64,1.4,.07,.05],[-94.14,38.56,.95,.22,.16],[-93.93,38.77,.95,.1,.1],[-94.8,38.57,.9,.08,.09],[-94.8,38.31,.9,.07,.06],[-93.81,38.35,.9,.12,.09],[-93.55,38.54,.9,.07,.05],[-93.32,38.69,.9,.04,.08],[-93.66,38.19,1.3,.1,.07],[-94.48,38.04,.9,.07,.06],[-94.23,37.94,1.3,.1,.07],[-94.81,37.95,1.9,.07,.08],[-94.81,37.79,1.9,.07,.07],[-94.81,37.88,1,.13,.22],[-94.61,37.65,1.1,.07,.1],[-93.72,37.58,1.2,.05,.05],[-95.16,37.7,1.2,.06,.05],[-94.76,37.26,1.7,.13,.08],[-94.5,37.31,.9,.07,.08],[-94.97,37.08,.9,.04,.06],[-93.85,37.12,1.1,.08,.05],[-94.31,36.78,.9,.06,.07],[-94.57,36.82,.9,.1,.08],[-95.46,36.82,.9,.17,.06],[-94.29,36.48,1.1,.05,.04],[-94.67,36.04,.9,.09,.09],[-95.08,35.93,.9,.08,.08],[-94.86,35.85,.9,.13,.08],[-95.2,35.34,.95,.19,.3],[-94.57,35.5,.95,.3,.17],[-94.69,35.15,1.8,.13,.13],[-94.63,35.25,1.3,.15,.11],[-94.89,35.35,2.6,.08,.08],[-94.4,35.21,.9,.25,.2],[-93.91,35.23,1.2,.05,.05],[-94.57,34.92,1.1,.17,.1],[-94.8,34.92,.9,.13,.17],[-94.05,34.71,2.4,.08,.08],[-94.8,34.66,1.7,.06,.06],[-92.45,39.24,1.4,.08,.08],[-92.24,39.05,.9,.06,.05],
[-99.06,34.47,1.7,.09,.13],[-98.96,34.29,1.5,.07,.07],[-99.59,34.56,.9,.08,.07],[-99.38,34.06,.95,.19,.19],[-99.3,33.85,.9,.11,.12],[-99.36,33.93,1.2,.04,.04],[-99.38,33.67,1.9,.08,.08],[-99.57,33.57,1.3,.06,.07],[-99.19,33.57,1.3,.09,.05],[-98.87,33.47,.95,.18,.12],[-99.04,33.53,.9,.12,.1],[-98.94,33.76,1.1,.07,.09],[-98.39,33.77,1.9,.06,.06],[-98.03,34.12,.9,.1,.13],[-97.75,34.14,1.7,.08,.1],[-98.15,34.5,.9,.17,.1],[-97.83,33.51,.9,.07,.13],[-97.67,33.4,.9,.05,.04],[-98.6,33.22,1.3,.09,.05],[-98.92,33.14,1.2,.06,.05],[-98.56,33.04,.85,.11,.03],[-99.5,33.21,.85,.08,.04],[-99.03,32.95,1.5,.05,.05],[-99.55,32.92,.85,.03,.06],[-99.35,32.75,1.5,.13,.15],[-99.44,32.67,1.3,.06,.04],[-99.72,32.66,.95,.1,.13],[-98.6,32.64,1.4,.05,.11],[-98.68,32.72,.9,.12,.08],[-97.81,33.13,1.2,.05,.05],[-97.43,34.3,2,.07,.08],[-97.2,34.4,.9,.06,.06],[-97.1,34.22,1.9,.11,.09],[-96.88,34.02,1.7,.1,.13],[-97,34.57,1.6,.13,.08],[-96.75,34.48,.9,.07,.07],[-96.67,33.86,1.8,.06,.06],[-96.88,33.7,1.2,.06,.06],[-96.39,34.12,1.5,.15,.07],[-96.33,34.46,1.2,.05,.05],[-96.12,34.57,1.6,.08,.07],[-96.12,33.75,1.9,.06,.07],[-96.03,33.93,1.4,.06,.04],[-96.08,34.31,.95,.13,.17],[-96.39,33.76,.9,.09,.05],[-95.82,34.4,.9,.1,.19],[-96.99,33.47,2.5,.08,.13],[-97.35,33.57,.9,.08,.08],[-97.33,33.19,.9,.1,.1],[-97.05,33.15,1.4,.14,.07],[-96.78,33.04,1.3,.05,.04],[-96.73,32.98,.9,.12,.08],[-95.93,33.04,1.5,.07,.07],[-97.31,32.79,2,.05,.05],[-97.2,32.87,1.3,.05,.08],[-97.41,32.6,2.1,.05,.05],[-97.22,32.34,.9,.04,.04],[-95.81,33.31,3.1,.09,.09],[-95.6,33.31,3.1,.09,.09],[-95.48,33.21,2.5,.04,.04],[-96.25,33.3,.95,.14,.13],[-95.61,33.03,1.4,.06,.05],[-95.61,32.86,1.6,.06,.05],[-95.74,33.59,.95,.15,.13],[-95.57,32.58,.85,.08,.03],[-95.72,32.41,.9,.05,.04],[-95.48,32.41,.9,.06,.04],[-100.12,32.11,.95,.1,.16],[-99.93,32.09,.95,.1,.15],[-100.17,31.86,.95,.15,.06],[-99.85,31.86,.9,.08,.08],[-100.06,31.69,.9,.07,.1],[-99.93,31.62,.9,.08,.09],[-99.64,32.06,1.2,.06,.06],[-99.43,32.32,1.2,.06,.07],[-99.22,32.14,1.4,.08,.08],[-99.32,31.87,1.5,.13,.07],[-99.12,31.88,2,.08,.07],[-99.3,31.77,.95,.17,.13],[-99.64,31.69,2.1,.08,.08],[-99.43,31.6,1.5,.08,.05],[-99.21,31.59,1.2,.05,.05],[-99.64,31.47,.95,.09,.09],[-99.83,31.35,1.5,.08,.1],[-96.25,31.96,1.3,.08,.08],[-96.14,32.15,.9,.08,.06],[-96.56,32.07,.8,.04,.05],
[-97.01,32.15,.55,.07,.04],[-97.11,31.97,.55,.07,.04],[-96.88,32.06,.55,.05,.04],[-97.31,31.47,.55,.06,.08],[-97.31,31.26,.55,.05,.05],[-97.64,31.26,.55,.08,.06],[-95.5,31.77,.55,.11,.16],[-96.03,31.86,.55,.07,.07],[-96.03,31.62,.55,.05,.05],[-95.74,31.51,1,.09,.09],[-95.4,31.6,.55,.07,.07],[-96.16,31.5,.55,.07,.05],[-95.95,31.39,.55,.17,.13],[-95.74,31.24,1.3,.08,.06],[-95.84,31.06,.95,.08,.06],[-95.63,31.06,1.1,.06,.05],[-96.08,31.22,.55,.09,.07],[-95.4,31.14,.55,.11,.13],[-95.35,30.69,.55,.11,.07],[-95.57,30.43,.55,.08,.11],[-95.88,30.33,.55,.07,.07],[-95.31,30.46,.55,.05,.07],[-94.19,30.42,.55,.07,.07],[-94.57,30.86,.55,.07,.05],[-94.29,30.61,.55,.11,.11],[-93.68,30.56,.55,.13,.09],[-93.38,30.42,.55,.19,.09],[-93.6,30.2,.55,.13,.07],[-93.89,30.31,.6,.14,.11],[-93.04,30.33,.55,.15,.07],[-93.28,30.12,.55,.11,.07],[-93.96,30.76,.6,.15,.13],[-93.68,30.75,.55,.21,.09],[-95.27,30.58,.55,.13,.09],[-94.69,31.31,.55,.13,.11],[-95.2,30.9,.55,.12,.12],
[-94.92,34.27,1.6,.07,.08],[-94.72,34.25,.9,.16,.08],[-94.94,33.92,3,.08,.08],[-94.82,33.7,.9,.12,.09],[-94.33,34.46,.95,.17,.15],[-94.4,34.19,.9,.09,.05],[-94.04,33.98,.85,.09,.04],[-93.87,34.46,.9,.06,.06],[-94.61,34.46,.9,.04,.06],[-94.02,33.76,.95,.21,.15],[-94.46,33.53,.9,.13,.08],[-94.85,33.11,.85,.06,.05],[-94.54,33.04,1.8,.1,.11],[-94.17,33.15,.85,.09,.08],[-94.42,32.75,1.1,.09,.05],[-93.68,32.92,2.7,.09,.12],[-93.85,32.77,1.3,.15,.12],[-93.25,32.89,1.2,.08,.1],[-93.34,33.02,.9,.09,.1],[-92.92,32.96,.9,.06,.06],[-92.62,32.85,1.3,.07,.09],[-93.08,32.7,.85,.06,.03],[-92.3,32.89,.9,.07,.09],[-94.44,32.57,1.3,.08,.06],[-94.12,32.58,.9,.08,.06],[-93.7,32.55,1,.08,.05],[-93.71,32.36,1.9,.09,.05],[-93.91,32.28,1.5,.05,.04],[-93.87,32.15,.95,.13,.1],[-93.64,32.28,.95,.21,.15],[-94.24,32.2,.85,.06,.03],[-94.46,31.88,.85,.05,.08],[-94.14,31.86,.9,.07,.07],[-94.66,32.05,.9,.06,.06],[-93.19,32.09,1.8,.06,.08],[-93.34,31.96,.9,.09,.09],[-93.04,31.98,.9,.08,.1],[-92.66,32.22,.9,.05,.08],[-93.1,31.81,2.7,.09,.09],[-93.11,31.77,1,.15,.13],[-92.77,31.9,1.3,.09,.07],[-93.64,31.47,1.8,.07,.07],[-93.43,31.45,1.7,.06,.06],[-93.42,31.65,.9,.05,.06],[-94.48,31.41,.9,.11,.08],[-93.83,31.28,.9,.07,.06],[-93.59,31.11,1.2,.1,.06],[-93.25,31.3,.95,.17,.17],[-93,31.25,1,.4,.36],[-92.81,31.35,1.3,.04,.04],[-92.6,31.26,1.9,.08,.07],[-92.6,31.45,1.4,.06,.08],[-93.19,31.05,1.4,.1,.08],[-93.23,31,1.8,.03,.03],[-92.82,30.9,2.3,.07,.06],[-92.72,30.72,2,.06,.06],[-92.92,30.65,2.3,.08,.07],[-93.96,30.76,1.9,.08,.08],[-93.89,30.31,2.8,.08,.08],[-93.68,30.58,.85,.06,.04],[-94.49,30.32,.95,.08,.06],[-93.06,30.2,1.2,.07,.05],[-92.65,30.18,2.2,.08,.08],[-92.43,31.67,1.7,.15,.15],[-92.07,31.56,.95,.2,.1],[-91.75,31.5,2.1,.12,.06],[-91.86,31.31,2.5,.08,.08],[-91.78,31.76,.85,.09,.05],[-92.29,31.25,1.3,.07,.08],[-92.41,31.43,.9,.13,.17],[-92.09,31.06,2.1,.08,.08],[-91.65,31.11,1.4,.08,.06],[-91.55,31.03,1.4,.05,.04],[-91.43,31.64,.9,.1,.04],[-91.43,31.47,1.2,.06,.05],[-91.43,31.39,.9,.15,.1],[-91.35,31.03,.85,.06,.04],[-91.01,31.31,1.9,.09,.1],[-91.14,31.22,.9,.12,.08],[-90.75,31.62,1.9,.07,.06],[-90.79,31.43,1.9,.06,.06],[-90.71,31.52,.95,.11,.21],[-90.75,31.79,.9,.06,.08],[-90.37,31.52,1.3,.08,.06],[-90.34,31.86,1,.12,.06],[-90.15,31.59,2.6,.09,.09],[-90.39,31.31,.9,.09,.12],[-90.95,30.97,.95,.25,.13],[-90.54,31.01,.9,.08,.12],[-90.51,30.89,1.3,.07,.05],[-90.16,30.92,1,.11,.13],[-89.95,31.18,.9,.06,.11],[-90.84,30.63,.95,.13,.13],[-91.11,30.5,.95,.17,.06],[-91.26,30.39,1.2,.06,.04],[-90.56,30.56,.85,.05,.1],[-90.27,30.71,.9,.09,.09],[-90.8,30.33,.95,.13,.08],[-91.52,30.25,.9,.1,.07],[-91.33,30.16,.95,.1,.1],[-91.81,30.54,.95,.1,.09],[-90.25,30.33,1.2,.06,.06],[-90.37,29.96,2.9,.07,.06],[-90.39,29.84,.9,.09,.1],[-91.52,29.86,1.7,.08,.07],[-91.92,29.89,1.1,.07,.05],[-91.35,29.76,1.4,.1,.06],[-91.07,29.82,1.4,.11,.09],[-90.92,29.57,.95,.19,.15],[-90.63,29.72,.85,.08,.04],[-92.36,29.72,2.4,.08,.08],[-91.67,29.5,1.3,.07,.08],[-91.35,29.41,1.3,.1,.1],[-91.83,29.12,1.6,.19,.12],[-91.54,29.25,1.3,.08,.08],[-91.28,29.12,1.2,.08,.04],[-91.16,29.21,.9,.06,.06],[-92.1,28.81,1.5,.08,.09],[-92.31,28.66,.9,.06,.07],[-92.6,28.74,1.2,.07,.17],[-92.87,29.82,1,.04,.06],[-92.33,34.15,1,.06,.05],[-92,32.31,1.3,.06,.06],[-91.37,32,1.5,.07,.03],[-91.71,32.45,.9,.08,.05]
];

var svg = d3.select("#chart");
var line = d3.line().x(function(d){return x(d[0]);}).y(function(d){return y(d[1]);});

// map scales
var x = d3.scaleLinear().domain([-104,-86]).range([205,1941]);
var y = d3.scaleLinear().domain([25,44]).range([1969,138]);

svg.append("clipPath").attr("id","mapclip").append("rect").attr("x",205).attr("y",138).attr("width",1736).attr("height",1831);
var map = svg.append("g").attr("clip-path","url(#mapclip)");
map.append("rect").attr("x",205).attr("y",138).attr("width",1736).attr("height",1831).attr("fill","#efeeda");
map.append("path").attr("d",line(gulf)+"Z").attr("fill","#97b6e1");
gulfBays.forEach(function(b){ map.append("path").attr("d",line(b)+"Z").attr("fill","#97b6e1"); });
map.append("path").attr("d",line(lakeMichigan)+"Z").attr("fill","#97b6e1");
map.append("path").attr("d",line(greenBay)+"Z").attr("fill","#97b6e1");

function river(pts,w,c){
  map.append("path").attr("d",line(pts)).attr("fill","none").attr("stroke",c||"#9db9e2").attr("stroke-width",w).attr("stroke-linejoin","round").attr("stroke-linecap","round");
}
[riverMissouri,riverMissouriLow,riverMississippi,riverDelta,riverWabash,riverGreen,riverOhio,riverTennessee,riverAlabama,riverArkansasLow,riverArkansasHigh,riverRedHigh,riverBrazosTop,riverTrinity].forEach(function(r){ river(r,4.4); });
river(riverMissouriWide,9);
river(riverTennesseeWide,9);
river(riverTennesseeLake,11);
river(riverGrande,5.2,"#8ca7d2");

coastPieces.forEach(function(c){
  map.append("path").attr("d",line(c)).attr("fill","none").attr("stroke","#000").attr("stroke-width",6.4).attr("stroke-linejoin","round").attr("stroke-linecap","round");
});
map.append("path").attr("d",line(coastThin)).attr("fill","none").attr("stroke","#000").attr("stroke-width",3.6);

// field on a 0.05 degree grid
var cell = 0.05, lon0 = -102.2, lat0 = 28, nx = 280, ny = 280, spread = 1.25;
var field = new Float32Array(nx*ny).fill(NaN);
function fillPoly(poly,val){
  var ext = [d3.extent(poly,function(p){return p[0];}), d3.extent(poly,function(p){return p[1];})];
  var i0 = Math.max(0,Math.floor((ext[0][0]-lon0)/cell)), i1 = Math.min(nx-1,Math.ceil((ext[0][1]-lon0)/cell));
  var j0 = Math.max(0,Math.floor((ext[1][0]-lat0)/cell)), j1 = Math.min(ny-1,Math.ceil((ext[1][1]-lat0)/cell));
  for(var j=j0;j<=j1;j++) for(var i=i0;i<=i1;i++){
    if(d3.polygonContains(poly,[lon0+(i+.5)*cell,lat0+(j+.5)*cell])) field[j*nx+i] = val;
  }
}
coverage.forEach(function(p){fillPoly(p,0.4);});
lowPatches.forEach(function(p){fillPoly(p,0);});
noData.forEach(function(p){fillPoly(p,NaN);});

hotspots.forEach(function(h){
  var rx = h[3]*spread, ry = h[4]*spread;
  var i0 = Math.max(0,Math.floor((h[0]-2*rx-lon0)/cell)), i1 = Math.min(nx-1,Math.ceil((h[0]+2*rx-lon0)/cell));
  var j0 = Math.max(0,Math.floor((h[1]-2*ry-lat0)/cell)), j1 = Math.min(ny-1,Math.ceil((h[1]+2*ry-lat0)/cell));
  for(var j=j0;j<=j1;j++) for(var i=i0;i<=i1;i++){
    var dx = (lon0+(i+.5)*cell-h[0])/rx, dy = (lat0+(j+.5)*cell-h[1])/ry;
    var d = Math.sqrt(dx*dx+dy*dy), v;
    if(h[2]<0.667){ if(d>=1) continue; v = h[2]; }
    else { if(d>=2) continue; v = d<1 ? 0.667+(h[2]-0.667)*(1-d) : 0.667-(d-1)*0.47; }
    var k = j*nx+i;
    if(isNaN(field[k])){ if(d<1) field[k] = v; }
    else if(v>field[k]) field[k] = v;
  }
});

var color = d3.scaleThreshold().domain(levels.slice(1,-1)).range(levelColors);
var cellPaths = {};
for(var j=0;j<ny;j++) for(var i=0;i<nx;i++){
  var v = field[j*nx+i];
  if(isNaN(v)) continue;
  var c = color(v);
  var x0 = Math.round(x(lon0+i*cell)), x1 = Math.round(x(lon0+(i+1)*cell));
  var y0 = Math.round(y(lat0+(j+1)*cell)), y1 = Math.round(y(lat0+j*cell));
  cellPaths[c] = (cellPaths[c]||"")+"M"+x0+" "+y0+"h"+(x1-x0)+"v"+(y1-y0)+"h"+(x0-x1)+"z";
}
var heat = map.append("g").style("filter","blur(1.4px)");
levelColors.forEach(function(c){
  if(cellPaths[c]) heat.append("path").attr("d",cellPaths[c]).attr("fill",c).attr("shape-rendering","crispEdges");
});

// track
var trackOutline = d3.zip(trackWest,trackLat).concat(d3.zip(trackEast,trackLat).reverse());
map.append("path").attr("d",d3.line().x(function(d){return x(d[0]);}).y(function(d){return y(d[1]);}).curve(d3.curveCatmullRomClosed)(trackOutline))
  .attr("fill","#8c8c8c");

// grid
map.selectAll(".gx").data(lonGrid).enter().append("line").attr("x1",x).attr("x2",x).attr("y1",138).attr("y2",1969).attr("stroke","#adadad").attr("stroke-width",3.4);
map.selectAll(".gy").data(latGrid).enter().append("line").attr("y1",y).attr("y2",y).attr("x1",205).attr("x2",1941).attr("stroke","#adadad").attr("stroke-width",3.4);

// stations
map.selectAll(".st").data(d3.zip(stationLon,stationLat)).enter().append("circle")
  .attr("cx",function(d){return x(d[0]);}).attr("cy",function(d){return y(d[1]);}).attr("r",10.5).attr("fill","#000");

function frame(x0,y0,w,h){
  svg.append("rect").attr("x",x0).attr("y",y0).attr("width",w).attr("height",h).attr("fill","none").attr("stroke","#000").attr("stroke-width",3.8);
}
frame(205,138,1736,1831);
svg.append("g").attr("class","axis").attr("transform","translate(0,1969)")
  .call(d3.axisBottom(x).tickValues(lonTicks).tickSize(17).tickPadding(11).tickFormat(d3.format("d")))
  .selectAll("text").attr("font-size",44.5);
svg.append("g").attr("class","axis").attr("transform","translate(205,0)")
  .call(d3.axisLeft(y).tickValues(latTicks).tickSize(17).tickPadding(10).tickFormat(d3.format("d")))
  .selectAll("text").attr("font-size",44.5);
svg.append("text").attr("x",1071).attr("y",2100).attr("text-anchor","middle").attr("font-size",54).text("Longitude (°)");
svg.append("text").attr("transform","translate(76,1053) rotate(-90)").attr("text-anchor","middle").attr("font-size",54).text("Latitude (°)");

// colour bar
var barY = d3.scaleLinear().domain([-1.2,3]).range([2009,99.5]);
svg.selectAll(".band").data(levelColors).enter().append("rect")
  .attr("x",2048).attr("width",96)
  .attr("y",function(d,i){return barY(levels[i+1]);})
  .attr("height",function(d,i){return barY(levels[i])-barY(levels[i+1]);})
  .attr("fill",function(d){return d;});
frame(2048,99.5,96,1909.5);
svg.append("g").attr("class","axis").attr("transform","translate(2144,0)")
  .call(d3.axisRight(barY).tickValues(levels).tickSize(17).tickPadding(13).tickFormat(d3.format(".3f")))
  .selectAll("text").attr("font-size",38.5);
svg.append("text").attr("transform","translate(2380,1056) rotate(-90)").attr("text-anchor","middle").attr("font-size",54.2).text("Specific differential phase shift (deg/km)");

// profile panel
var px = d3.scaleLinear().domain([-1.585,18.35]).range([2427,3786]);
var py = d3.scaleLinear().domain([0,15]).range([2009,99.5]);
svg.append("clipPath").attr("id","profclip").append("rect").attr("x",2427).attr("y",99.5).attr("width",1359).attr("height",1909.5);
var profile = d3.line().x(function(d){return px(d[0]);}).y(function(d){return py(d[1]);});
var prof = svg.append("g").attr("clip-path","url(#profclip)");
prof.append("path").attr("d",profile(d3.zip(nexradX,nexradH))).attr("fill","none").attr("stroke","#ff0000").attr("stroke-width",5.4).attr("stroke-linejoin","round");
prof.append("path").attr("d",profile(d3.zip(pazX,pazH))).attr("fill","none").attr("stroke","#000").attr("stroke-width",5.4).attr("stroke-linejoin","round");
frame(2427,99.5,1359,1909.5);
svg.append("g").attr("class","axis").attr("transform","translate(0,2009)")
  .call(d3.axisBottom(px).tickValues(barX).tickSize(17).tickPadding(12).tickFormat(d3.format(".1f")))
  .selectAll("text").attr("font-size",38.5);
svg.append("g").attr("class","axis").attr("transform","translate(3786,0)")
  .call(d3.axisRight(py).tickValues(barH).tickSize(17).tickPadding(12).tickFormat(d3.format("d")))
  .selectAll("text").attr("font-size",38.5);
svg.append("text").attr("x",3104).attr("y",2136).attr("text-anchor","middle").attr("font-size",54.4).text("Differential phase shift (mm)");
svg.append("text").attr("transform","translate(3922,1060) rotate(-90)").attr("text-anchor","middle").attr("font-size",54).text("Height (km)");
svg.append("text").attr("x",3105).attr("y",75).attr("text-anchor","middle").attr("font-size",50).text("2018-12-26 23:55:29.505909");

// legend
svg.append("rect").attr("x",3165).attr("y",126).attr("width",594).attr("height",340).attr("rx",10).attr("fill","#fff").attr("fill-opacity",0.8).attr("stroke","#d5d5d5").attr("stroke-width",3.4);
var rowY = d3.scalePoint().domain(legendRows).range([169,412]);
svg.append("line").attr("x1",3181).attr("x2",3293).attr("y1",rowY(legendRows[0])).attr("y2",rowY(legendRows[0])).attr("stroke","#ff0000").attr("stroke-width",5.4);
svg.append("line").attr("x1",3181).attr("x2",3293).attr("y1",rowY(legendRows[1])).attr("y2",rowY(legendRows[1])).attr("stroke","#000").attr("stroke-width",5.4);
svg.selectAll(".lg").data(legendRows).enter().append("text").attr("x",3335).attr("y",function(d){return rowY(d)+18;}).attr("font-size",54).text(function(d){return d;});
</script>
</body>
</html>
